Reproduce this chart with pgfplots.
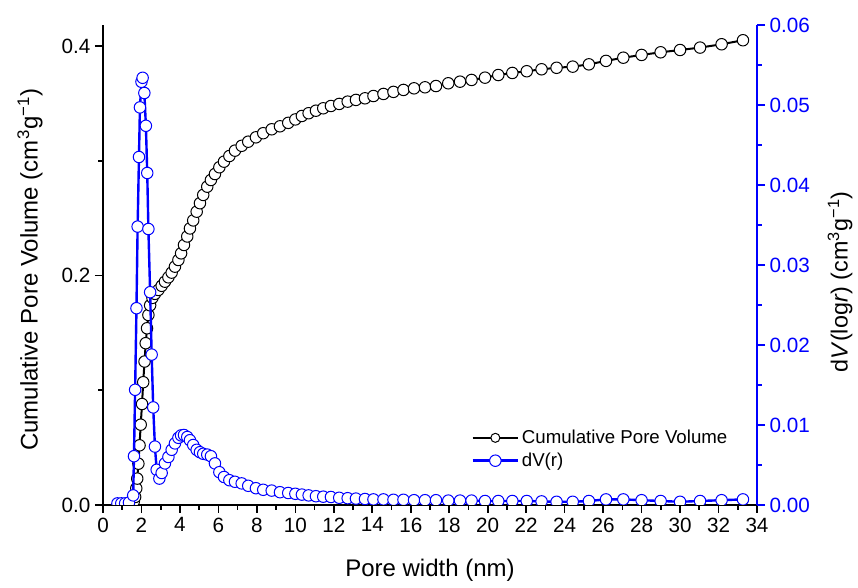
\documentclass[border=0pt]{standalone}
\usepackage{fontspec}
\setmainfont{Liberation Sans}
\usepackage{pgfplots}
\pgfplotsset{compat=1.18}
\definecolor{myblue}{RGB}{0,0,255}

\begin{document}
\begin{tikzpicture}
\pgfplotsset{
  every axis/.append style={
    scale only axis, width=490.5pt, height=360pt,
    at={(77.25pt,62.25pt)}, anchor=south west,
    xmin=0, xmax=34,
    major tick length=6pt, minor tick length=3.5pt,
    tick align=outside,
    /pgf/number format/assume math mode=true,
    tick label style={font=\fontsize{15.5}{18}\selectfont},
    clip marker paths=true,
  },
}
\begin{axis}[
  axis x line*=bottom, axis y line*=left,
  axis line style={line width=1.5pt, -},
  every tick/.style={black, line width=1.2pt},
  ymin=0, ymax=0.41829,
  ytick={0,0.2,0.4}, minor ytick={0.1,0.3},
  xtick={0,2,...,34}, minor xtick={1,3,...,33},
  yticklabel style={/pgf/number format/.cd,fixed,fixed zerofill,precision=1},
  xlabel={Pore width (nm)},
  ylabel={Cumulative Pore Volume (cm\textsuperscript{3}g\textsuperscript{−1})},
  every axis x label/.style={at={(axis description cs:0.5,-0.135)}, anchor=center, font=\fontsize{18}{21}\selectfont},
  every axis y label/.style={at={(axis description cs:-0.1116,0.49)}, rotate=90, anchor=center, font=\fontsize{18}{21}\selectfont},
]
\addplot[black, line width=1.5pt, mark=*, mark size=4.3pt, mark options={fill=white, draw=black, line width=0.75pt}] coordinates {
(1.52,0.0005)(1.60,0.003)(1.67,0.007)(1.73,0.0145)(1.78,0.023)(1.84,0.036)(1.90,0.052)(1.96,0.070)(2.03,0.088)(2.09,0.107)(2.16,0.125)(2.22,0.141)(2.29,0.154)(2.36,0.1656)(2.45,0.174)(2.57,0.1805)(2.70,0.1840)(2.88,0.1874)(3.05,0.1910)(3.22,0.1946)(3.40,0.1984)(3.57,0.2025)(3.74,0.2077)(3.92,0.2135)(4.06,0.2193)(4.21,0.2266)(4.38,0.2340)(4.52,0.2410)(4.69,0.2480)(4.87,0.2556)(5.04,0.2630)(5.21,0.2702)(5.42,0.2774)(5.61,0.2832)(5.82,0.2884)(6.05,0.2943)(6.29,0.2992)(6.57,0.3041)(6.86,0.3088)(7.21,0.3130)(7.55,0.3166)(7.95,0.3204)(8.33,0.3240)(8.77,0.3274)(9.20,0.3300)(9.63,0.3330)(10.00,0.3360)(10.34,0.3390)(10.69,0.3414)(11.07,0.3436)(11.45,0.3457)(11.85,0.3477)(12.28,0.3495)(12.72,0.3515)(13.15,0.3530)(13.62,0.3544)(14.06,0.3564)(14.58,0.3582)(15.10,0.3600)(15.62,0.3617)(16.17,0.3631)(16.74,0.3640)(17.31,0.3651)(17.95,0.3675)(18.56,0.3689)(19.16,0.3704)(19.86,0.3724)(20.55,0.3747)(21.28,0.3765)(22.03,0.3780)(22.80,0.3797)(23.58,0.3810)(24.42,0.3820)(25.26,0.3840)(26.15,0.3870)(27.05,0.3898)(28.00,0.3922)(28.99,0.3945)(30.00,0.3965)(31.04,0.3986)(32.16,0.4015)(33.27,0.4050)
};
\end{axis}
\begin{axis}[
  axis x line=none, axis y line*=right,
  axis line style={line width=1.5pt, myblue, -},
  every tick/.style={myblue, line width=1.2pt},
  ymin=0, ymax=0.06,
  ytick={0,0.01,0.02,0.03,0.04,0.05,0.06},
  minor ytick={0.005,0.015,0.025,0.035,0.045,0.055},
  scaled y ticks=false,
  yticklabel style={myblue, /pgf/number format/.cd,fixed,fixed zerofill,precision=2},
  ylabel={d\textit{V}(log\textit{r}) (cm\textsuperscript{3}g\textsuperscript{−1})},
  every axis y label/.style={at={(axis description cs:1.127,0.465)}, rotate=90, anchor=center, font=\fontsize{17.5}{21}\selectfont},
  legend style={draw=none, fill=none, at={(axis description cs:0.561,0.165)}, anchor=north west,
    font=\fontsize{14}{16}\selectfont, row sep=1.5pt, inner sep=1pt},
  legend cell align=left,
  legend image code/.code={\draw[mark repeat=2,mark phase=2,#1] plot coordinates {(0pt,0pt) (17pt,0pt) (34pt,0pt)};},
]
\addlegendimage{black, line width=1.5pt, mark=*, mark size=3.4pt, mark options={fill=white, draw=black, line width=0.75pt}}
\addlegendentry{Cumulative Pore Volume}
\addplot[myblue, line width=1.8pt, mark=*, mark size=4.3pt, mark options={fill=white, draw=myblue, line width=0.75pt}] coordinates {
(0.75,0.0002)(0.95,0.0002)(1.15,0.0002)(1.35,0.0003)(1.57,0.0012)(1.61,0.0061)(1.67,0.0144)(1.74,0.0246)(1.80,0.0348)(1.87,0.0435)(1.92,0.0497)(2.00,0.0529)(2.06,0.0534)(2.15,0.0515)(2.23,0.0474)(2.30,0.0415)(2.36,0.0345)(2.45,0.0266)(2.53,0.0188)(2.61,0.0122)(2.70,0.0073)(2.79,0.0044)(2.93,0.0033)(3.05,0.0040)(3.22,0.0052)(3.40,0.0060)(3.57,0.0069)(3.74,0.0077)(3.92,0.0084)(4.06,0.0087)(4.21,0.00875)(4.38,0.0085)(4.52,0.0081)(4.69,0.0075)(4.87,0.0069)(5.04,0.0066)(5.21,0.0064)(5.42,0.0063)(5.61,0.0061)(5.82,0.0052)(6.05,0.0041)(6.29,0.0035)(6.57,0.0031)(6.86,0.0029)(7.21,0.0027)(7.55,0.0024)(7.95,0.0021)(8.33,0.0019)(8.77,0.0018)(9.20,0.0016)(9.63,0.0015)(10.00,0.0014)(10.34,0.0013)(10.69,0.0012)(11.07,0.0011)(11.45,0.00104)(11.85,0.0010)(12.28,0.0009)(12.72,0.00085)(13.15,0.0008)(13.62,0.00075)(14.06,0.0007)(14.58,0.0007)(15.10,0.00065)(15.62,0.00065)(16.17,0.0006)(16.74,0.0006)(17.31,0.0006)(17.95,0.00055)(18.56,0.00055)(19.16,0.00055)(19.86,0.0005)(20.55,0.0005)(21.28,0.0005)(22.03,0.0005)(22.80,0.00045)(23.58,0.0004)(24.42,0.0004)(25.26,0.0005)(26.15,0.0007)(27.05,0.0007)(28.00,0.0006)(28.99,0.0005)(30.00,0.0004)(31.04,0.0005)(32.16,0.0006)(33.27,0.0007)
};
\addlegendentry{dV(r)}
\end{axis}
\pgfresetboundingbox
\path (0,0) rectangle (643.5pt,441pt);
\end{tikzpicture}
\end{document}
